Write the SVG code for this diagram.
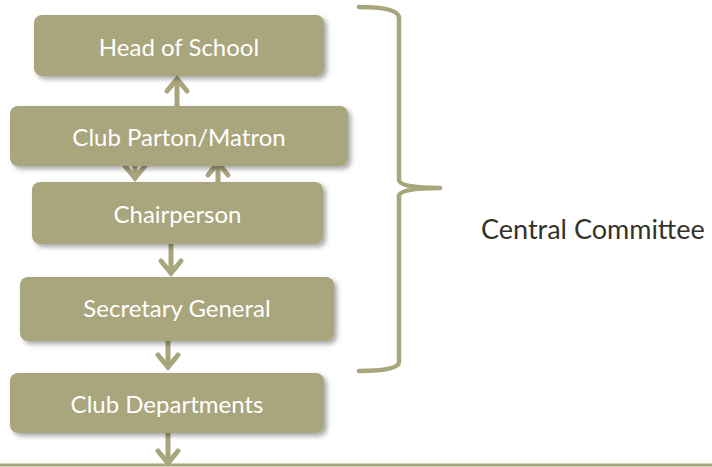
<svg xmlns="http://www.w3.org/2000/svg" width="712" height="467" viewBox="0 0 712 467">
<style>
.box{fill:#a9a57c;filter:url(#sh)}
.lbl{font-family:Lato,"Open Sans",sans-serif;font-size:24px;fill:#ffffff;text-anchor:middle}
.conn{stroke:#a9a57c;stroke-width:5;fill:none;marker-end:url(#ah)}
.brace{stroke:#a9a57c;stroke-width:4.5;fill:none;stroke-linecap:round;stroke-linejoin:round}
.side{font-family:Lato,"Open Sans",sans-serif;font-size:27px;fill:#33332a}
</style>
<defs>
<filter id="sh" x="-10%" y="-20%" width="125%" height="150%">
<feDropShadow dx="3" dy="3" stdDeviation="2.5" flood-color="#000" flood-opacity="0.35"/>
</filter>
<marker id="ah" markerUnits="userSpaceOnUse" markerWidth="40" markerHeight="40" viewBox="-20 -20 40 40" refX="0" refY="0" orient="auto">
<path d="M-13,-10 L-1,0 L-13,10" fill="none" stroke="#a9a57c" stroke-width="5" stroke-linecap="round" stroke-linejoin="miter"/>
</marker>
</defs>
<rect width="712" height="467" fill="#ffffff"/>
<g id="connectors">
<line class="conn" x1="177" y1="106" x2="177" y2="78"/>
<line class="conn" x1="135" y1="160" x2="135" y2="179"/>
<line class="conn" x1="218" y1="184" x2="218" y2="162"/>
<line class="conn" x1="171" y1="244" x2="171" y2="274"/>
<line class="conn" x1="168" y1="341" x2="168" y2="368"/>
<line class="conn" x1="168" y1="433" x2="168" y2="464"/>
<line x1="0" y1="465" x2="712" y2="465" stroke="#a9a57c" stroke-width="3"/>
</g>
<g id="head">
<rect class="box" x="34" y="15" width="290" height="61" rx="8"/>
<text class="lbl" x="179" y="56">Head of School</text>
</g>
<g id="patron">
<rect class="box" x="10" y="106" width="338" height="60" rx="8"/>
<text class="lbl" x="179" y="146">Club Parton/Matron</text>
</g>
<g id="chair">
<rect class="box" x="32" y="182" width="291" height="62" rx="8"/>
<text class="lbl" x="177.5" y="223">Chairperson</text>
</g>
<g id="secretary">
<rect class="box" x="20" y="277" width="314" height="64" rx="8"/>
<text class="lbl" x="177" y="317">Secretary General</text>
</g>
<g id="departments">
<rect class="box" x="10" y="373" width="314" height="60" rx="8"/>
<text class="lbl" x="167" y="413">Club Departments</text>
</g>
<g id="committee">
<path class="brace" d="M359,7 Q399,7 399,18 V180 Q399,188 440,188 Q399,188 399,196 V362 Q399,371 359,371"/>
<text class="side" x="481" y="239">Central Committee</text>
</g>
</svg>
